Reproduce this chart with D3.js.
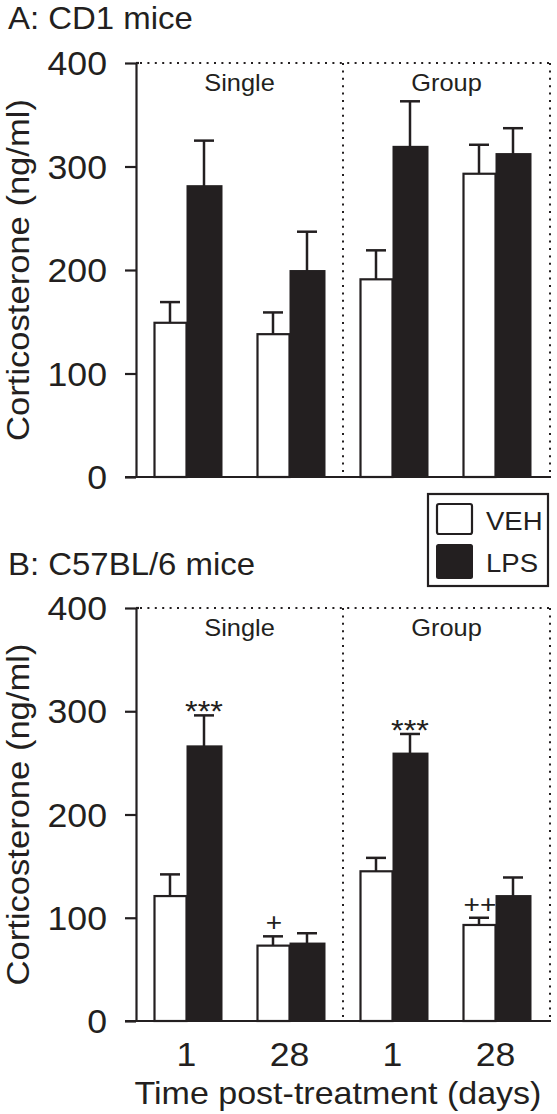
<!DOCTYPE html>
<html>
<head>
<meta charset="utf-8">
<script src="https://cdn.jsdelivr.net/npm/d3@7"></script>
<style>
  html, body { margin: 0; padding: 0; background: #fff; }
  svg { display: block; }
  text { font-family: "Liberation Sans", Arial, Helvetica, sans-serif; fill: #231f20; }
</style>
</head>
<body>
<script>
// ---------- data ----------
const categories = ["Single-1", "Single-28", "Group-1", "Group-28"];
const xTickLabels = ["1", "28", "1", "28"];
const housingLabels = ["Single", "Group"];
const seriesNames = ["VEH", "LPS"];
const yTicks = [0, 100, 200, 300, 400];

const cd1Veh = [149, 138, 191, 293];
const cd1VehErr = [20, 21, 28, 28];
const cd1Lps = [281, 199, 319, 312];
const cd1LpsErr = [44, 38, 44, 25];

const c57Veh = [121, 73, 145, 93];
const c57VehErr = [21, 9, 13, 7];
const c57Lps = [266, 75, 259, 121];
const c57LpsErr = [30, 10, 19, 18];

const c57LpsMarks = ["***", "", "***", ""];
const c57VehMarks = ["", "+", "", "++"];

// ---------- layout ----------
const W = 557, H = 1114;
const INK = "#231f20";
const FONT_STRETCH = 1.08;
const svg = d3.select("body").append("svg").attr("width", W).attr("height", H);

function txt(g, x, y, s, size, anchor, rot) {
  return g.append("text")
    .attr("transform", `translate(${x},${y}) rotate(${rot || 0}) scale(${FONT_STRETCH},1)`)
    .attr("text-anchor", anchor || "start")
    .style("font-size", size + "px")
    .text(s);
}

const axisX = 136, plotRight = 550, divider = 343;
const x = d3.scaleBand().domain(categories).range([135, 547]).paddingInner(0).paddingOuter(0);

function panel(cfg) {
  const g = svg.append("g");
  const y = d3.scaleLinear().domain([0, 400]).range([cfg.y0, cfg.y400]);

  // title
  txt(g, 8, cfg.titleY, cfg.title, 30.5, "start");

  // y axis label
  txt(g, 29, (cfg.y0 + cfg.y400) / 2, "Corticosterone (ng/ml)", 32, "middle", -90);

  // dotted frame
  const dot = { "stroke": INK, "stroke-width": 2, "stroke-dasharray": "2 5.4", "fill": "none" };
  const dl = (x1, y1, x2, y2) => {
    const l = g.append("line").attr("x1", x1).attr("y1", y1).attr("x2", x2).attr("y2", y2);
    Object.entries(dot).forEach(([k, v]) => l.attr(k, v));
  };
  dl(axisX + 4, y(400), plotRight, y(400));
  dl(divider, y(400), divider, y(0));
  dl(plotRight, y(400), plotRight, y(0));

  // housing labels
  txt(g, (axisX + divider) / 2, y(400) + 28, housingLabels[0], 23.5, "middle");
  txt(g, (divider + plotRight) / 2, y(400) + 28, housingLabels[1], 23.5, "middle");

  // y axis via d3
  const ya = g.append("g").attr("transform", `translate(${axisX},0)`)
    .call(d3.axisLeft(y).tickValues(yTicks).tickSize(11).tickPadding(18).tickSizeOuter(0));
  ya.select(".domain").attr("stroke", INK).attr("stroke-width", 2.2);
  ya.selectAll(".tick line").attr("stroke", INK).attr("stroke-width", 2.2);
  ya.selectAll(".tick text").remove();
  yTicks.forEach(t => txt(g, axisX - 29, y(t) + 12, String(t), 33, "end"));
  // small overhang of top tick
  g.append("line").attr("x1", axisX).attr("x2", axisX + 3).attr("y1", y(400)).attr("y2", y(400))
    .attr("stroke", INK).attr("stroke-width", 2.2);

  // bars
  const bw = 33;
  const vehX = c => x(c) + x.bandwidth() / 2 - bw;
  const lpsX = c => x(c) + x.bandwidth() / 2;
  const cx = c => x(c) + x.bandwidth() / 2;

  function errBar(xc, v, e) {
    g.append("line").attr("x1", xc).attr("x2", xc).attr("y1", y(v)).attr("y2", y(v + e))
      .attr("stroke", INK).attr("stroke-width", 2.5);
    g.append("line").attr("x1", xc - 10).attr("x2", xc + 10).attr("y1", y(v + e)).attr("y2", y(v + e))
      .attr("stroke", INK).attr("stroke-width", 2.5);
  }

  categories.forEach((c, i) => {
    errBar(vehX(c) + bw / 2, cfg.veh[i], cfg.vehErr[i]);
    errBar(lpsX(c) + bw / 2 + 1, cfg.lps[i], cfg.lpsErr[i]);
  });

  g.selectAll("rect.veh").data(categories).join("rect").attr("class", "veh")
    .attr("x", c => vehX(c) + 1).attr("width", bw - 1)
    .attr("y", (c, i) => y(cfg.veh[i])).attr("height", (c, i) => y(0) - y(cfg.veh[i]))
    .attr("fill", "#fff").attr("stroke", INK).attr("stroke-width", 2.2);
  g.selectAll("rect.lps").data(categories).join("rect").attr("class", "lps")
    .attr("x", c => lpsX(c)).attr("width", bw + 3)
    .attr("y", (c, i) => y(cfg.lps[i]) - 1).attr("height", (c, i) => y(0) - y(cfg.lps[i]) + 1)
    .attr("fill", INK);

  // annotations
  if (cfg.lpsMarks) {
    categories.forEach((c, i) => {
      if (cfg.lpsMarks[i]) txt(g, lpsX(c) + bw / 2 + 1, y(cfg.lps[i] + cfg.lpsErr[i]) + 6, cfg.lpsMarks[i], 30, "middle");
      if (cfg.vehMarks[i]) txt(g, vehX(c) + bw / 2 + 1, y(cfg.veh[i] + cfg.vehErr[i]) - 5, cfg.vehMarks[i], 26, "middle");
    });
  }

  // x axis line
  g.append("line").attr("x1", 125).attr("x2", plotRight + 1).attr("y1", y(0)).attr("y2", y(0))
    .attr("stroke", INK).attr("stroke-width", 2.2);

  return { g, y, cx };
}

const pA = panel({ title: "A: CD1 mice", titleY: 29, y0: 477, y400: 63,
  veh: cd1Veh, vehErr: cd1VehErr, lps: cd1Lps, lpsErr: cd1LpsErr });
const pB = panel({ title: "B: C57BL/6 mice", titleY: 575, y0: 1021, y400: 608,
  veh: c57Veh, vehErr: c57VehErr, lps: c57Lps, lpsErr: c57LpsErr,
  lpsMarks: c57LpsMarks, vehMarks: c57VehMarks });

// x tick labels (bottom panel)
categories.forEach((c, i) => txt(pB.g, pB.cx(c), 1066, xTickLabels[i], 33, "middle"));
txt(pB.g, 338, 1104, "Time post-treatment (days)", 31.5, "middle");

// legend
const lg = svg.append("g");
lg.append("rect").attr("x", 428).attr("y", 494).attr("width", 120).attr("height", 92)
  .attr("fill", "#fff").attr("stroke", INK).attr("stroke-width", 2.2);
lg.append("rect").attr("x", 437).attr("y", 504).attr("width", 35).attr("height", 30).attr("rx", 2)
  .attr("fill", "#fff").attr("stroke", INK).attr("stroke-width", 2.2);
lg.append("rect").attr("x", 436).attr("y", 544).attr("width", 37).attr("height", 35).attr("rx", 2.5)
  .attr("fill", INK);
txt(lg, 486, 530, seriesNames[0], 25.5, "start");
txt(lg, 486, 572, seriesNames[1], 25.5, "start");
</script>
</body>
</html>
